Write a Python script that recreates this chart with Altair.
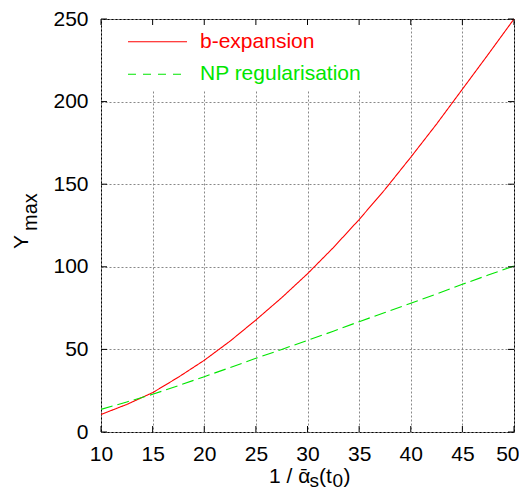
import altair as alt
import pandas as pd

# ---- data ----
x_vals = [10, 12.5, 15, 17.5, 20, 22.5, 25, 27.5, 30, 32.5, 35, 37.5, 40, 42.5, 45, 47.5, 50]
b_expansion = [10.6, 16.7, 23.8, 33.2, 43.4, 55.0, 67.8, 81.3, 95.8, 111.6, 128.6, 146.8, 166.3, 186.4, 207.5, 228.6, 250.0]
np_regularisation = [13.7, 18.2, 22.8, 28.1, 33.5, 39.0, 44.6, 50.0, 55.5, 61.0, 66.8, 72.3, 77.9, 83.6, 89.4, 95.0, 100.5]
series_names = ["b-expansion", "NP regularisation"]
series_colors = ["#ff0000", "#00e600"]
x_ticks = [10, 15, 20, 25, 30, 35, 40, 45, 50]
y_ticks = [0, 50, 100, 150, 200, 250]

W, H = 413, 413
FONT = "Liberation Sans"
FS = 21

rows = []
for i, xv in enumerate(x_vals):
    rows.append({"x": xv, "y": b_expansion[i], "series": series_names[0]})
    rows.append({"x": xv, "y": np_regularisation[i], "series": series_names[1]})
df = pd.DataFrame(rows)

xscale = alt.Scale(domain=[10, 50], nice=False, zero=False)
yscale = alt.Scale(domain=[0, 250], nice=False)
xaxis = alt.Axis(values=x_ticks, title=None, grid=True, ticks=False, domain=False,
                 labelFontSize=FS, labelFont=FONT, labelColor="black", labelPadding=11,
                 gridColor="#888888", gridDash=[2, 2], gridWidth=1, labelFlush=False,
                 labelAlign={"condition": {"test": "datum.value == 50", "value": "right"}, "value": "center"},
                 labelOffset={"condition": {"test": "datum.value == 50", "value": 5}, "value": 0})
yaxis = alt.Axis(values=y_ticks, title=None, grid=True, ticks=False, domain=False,
                 labelFontSize=FS, labelFont=FONT, labelColor="black", labelPadding=13,
                 gridColor="#888888", gridDash=[2, 2], gridWidth=1, labelFlush=False)

X = alt.X("x:Q", scale=xscale, axis=xaxis)
Y = alt.Y("y:Q", scale=yscale, axis=yaxis)

one = pd.DataFrame({"a": [0]})

# white legend box covering the grid
box = alt.Chart(one).mark_rect(color="white").encode(
    x=alt.value(1), x2=alt.value(276), y=alt.value(1), y2=alt.value(72))

lines = alt.Chart(df).mark_line(strokeWidth=1.1).encode(
    x=X, y=Y,
    color=alt.Color("series:N", scale=alt.Scale(domain=series_names, range=series_colors), legend=None),
    strokeDash=alt.StrokeDash("series:N", scale=alt.Scale(domain=series_names, range=[[1, 0], [12, 5]]), legend=None),
)

xt = pd.DataFrame({"x": x_ticks})
yt = pd.DataFrame({"y": y_ticks})
tick_b = alt.Chart(xt).mark_rule(color="black").encode(x=X, y=alt.value(H), y2=alt.value(H - 6))
tick_t = alt.Chart(xt).mark_rule(color="black").encode(x=X, y=alt.value(0), y2=alt.value(6))
tick_l = alt.Chart(yt).mark_rule(color="black").encode(y=Y, x=alt.value(0), x2=alt.value(6))
tick_r = alt.Chart(yt).mark_rule(color="black").encode(y=Y, x=alt.value(W - 6), x2=alt.value(W))

# legend
leg_r_line = alt.Chart(one).mark_rule(color=series_colors[0], strokeWidth=1.1).encode(
    x=alt.value(27), x2=alt.value(86), y=alt.value(22.7))
leg_g_line = alt.Chart(one).mark_rule(color=series_colors[1], strokeWidth=1.1, strokeDash=[8, 7]).encode(
    x=alt.value(27), x2=alt.value(86), y=alt.value(55.3))
leg_r_text = alt.Chart(one).mark_text(align="left", baseline="alphabetic", font=FONT, fontSize=FS,
                                      color=series_colors[0]).encode(
    x=alt.value(99), y=alt.value(28.7), text=alt.value(series_names[0]))
leg_g_text = alt.Chart(one).mark_text(align="left", baseline="alphabetic", font=FONT, fontSize=FS,
                                      color=series_colors[1]).encode(
    x=alt.value(99), y=alt.value(61.3), text=alt.value(series_names[1]))

def txt(s, x, y, size=FS, angle=0):
    kw = dict(align="left", baseline="alphabetic", font=FONT, fontSize=size, color="black")
    if angle:
        kw["angle"] = angle
    return alt.Chart(one).mark_text(**kw).encode(x=alt.value(x), y=alt.value(y), text=alt.value(s))

# axis titles (with subscript pieces)
ytitle = [txt("Y", -72.7, 230, FS, 270), txt("max", -64, 212, FS - 1, 270)]
TB = 464
xtitle = [txt("1 / \u1fb1", 168, TB), txt("s", 208.5, TB + 4, FS - 2), txt("(t", 218, TB),
          txt("0", 231.5, TB + 4, FS - 2), txt(")", 242.5, TB)]

chart = alt.layer(
    box, lines, tick_b, tick_t, tick_l, tick_r,
    leg_r_line, leg_g_line, leg_r_text, leg_g_text, *ytitle, *xtitle
).properties(
    width=W, height=H,
    autosize=alt.AutoSizeParams(type="none"),
    padding={"left": 93, "top": 11, "right": 5, "bottom": 59},
).configure_view(stroke="black", strokeWidth=1)

chart.save("out.html", embed_options={"renderer": "svg", "actions": False})
